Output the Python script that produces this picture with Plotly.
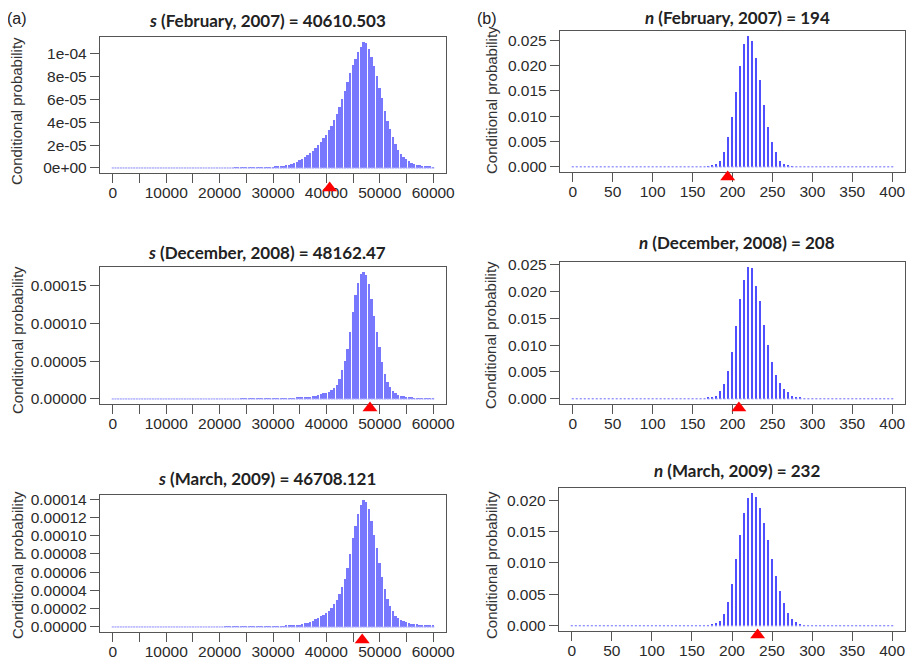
import numpy as np
import plotly.graph_objects as go

# page size; the html body adds an 8px margin, so the figure itself is 8px smaller
PAGE_W, PAGE_H = 916, 665
OFF = 8
W, H = PAGE_W - OFF, PAGE_H - OFF

# bin positions
s_bins = list(range(0, 60001, 500))
n_bins = list(range(0, 401, 5))

# conditional probability of s (units of 1e-6)
s_feb_2007 = [
    0, 0, 0, 0, 0, 0, 0, 0, 0, 0,
    0, 0, 0, 0, 0, 0, 0, 0, 0, 0,
    0, 0, 0, 0, 0, 0, 0, 0, 0, 0,
    0, 0, 0, 0, 0, 0, 0, 0, 0, 0,
    0, 0, 0, 0, 0, 0, 0.01, 0.01, 0.02, 0.02,
    0.03, 0.04, 0.05, 0.07, 0.1, 0.15, 0.2, 0.3, 0.4, 0.5,
    0.7, 0.9, 1.2, 1.5, 1.9, 2.4, 3.0, 3.7, 4.5, 5.5,
    6.6, 8.0, 9.5, 11, 13, 15, 17.5, 20, 23, 26,
    29, 33, 37, 42, 47, 53, 60, 67, 75, 83,
    90, 95, 101, 106, 110, 109, 104, 97, 89, 80,
    70, 61, 50, 41, 34, 27, 21, 16, 12, 9.5,
    7.5, 5.8, 4.5, 3.5, 2.8, 2.2, 1.8, 1.4, 1.1, 0.9,
    0.7,
]
s_dec_2008 = [
    0, 0, 0, 0, 0, 0, 0, 0, 0, 0,
    0, 0, 0, 0, 0, 0, 0, 0, 0, 0,
    0, 0, 0, 0, 0, 0, 0, 0, 0, 0,
    0, 0, 0, 0, 0, 0, 0, 0, 0, 0,
    0, 0, 0, 0, 0, 0, 0, 0, 0.01, 0.01,
    0.02, 0.02, 0.03, 0.04, 0.05, 0.06, 0.08, 0.1, 0.12, 0.14,
    0.17, 0.2, 0.25, 0.3, 0.4, 0.5, 0.6, 0.8, 1.0, 1.3,
    1.6, 1.9, 2.3, 2.7, 3.2, 3.8, 4.5, 5.3, 6.2, 7.2,
    8.4, 9.8, 11.5, 14, 19, 27, 38, 50, 66, 88,
    115, 137, 153, 165, 168, 164, 152, 132, 110, 88,
    69, 49, 33, 23, 16, 11, 8, 5.7, 4.4, 3.4,
    2.6, 2.0, 1.5, 1.1, 0.8, 0.6, 0.4, 0.3, 0.2, 0.15,
    0.1,
]
s_mar_2009 = [
    0, 0, 0, 0, 0, 0, 0, 0, 0, 0,
    0, 0, 0, 0, 0, 0, 0, 0, 0, 0,
    0, 0, 0, 0, 0, 0, 0, 0, 0, 0,
    0, 0, 0, 0, 0, 0, 0, 0, 0, 0,
    0, 0, 0.01, 0.02, 0.03, 0.04, 0.05, 0.06, 0.07, 0.08,
    0.1, 0.12, 0.15, 0.18, 0.22, 0.26, 0.3, 0.35, 0.4, 0.45,
    0.5, 0.6, 0.7, 0.8, 1.0, 1.2, 1.4, 1.6, 1.9, 2.2,
    2.6, 3.1, 3.8, 4.6, 5.6, 6.8, 8.2, 9.8, 11.5, 13.5,
    15.5, 18, 21, 25, 30, 36, 44, 53, 65, 80,
    97, 111, 124, 134, 139, 137, 129, 116, 101, 86,
    70, 55, 42, 31, 23, 17, 12.5, 9.5, 7.5, 6,
    5, 4.2, 3.6, 3.1, 2.7, 2.4, 2.1, 1.8, 1.6, 1.4,
    1.2,
]

# conditional probability of n (units of 1e-3)
n_feb_2007 = [
    0, 0, 0, 0, 0, 0, 0, 0, 0, 0,
    0, 0, 0, 0, 0, 0, 0, 0, 0, 0,
    0, 0, 0, 0, 0, 0, 0, 0, 0, 0,
    0, 0, 0, 0, 0.1, 0.25, 0.6, 1.2, 2.9, 5.8,
    9.9, 14.8, 19.9, 24.2, 25.8, 24.9, 21.5, 17.1, 12.3, 7.9,
    4.9, 2.9, 1.2, 0.6, 0.25, 0.1, 0, 0, 0, 0,
    0, 0, 0, 0, 0, 0, 0, 0, 0, 0,
    0, 0, 0, 0, 0, 0, 0, 0, 0, 0,
    0,
]
n_dec_2008 = [
    0, 0, 0, 0, 0, 0, 0, 0, 0, 0,
    0, 0, 0, 0, 0, 0, 0, 0, 0, 0,
    0, 0, 0, 0, 0, 0, 0, 0, 0, 0,
    0, 0, 0, 0, 0.15, 0.3, 0.6, 1.4, 2.7, 5.1,
    8.8, 13.5, 18.6, 22.1, 24.5, 24.3, 21.0, 18.2, 13.8, 10.0,
    6.9, 4.5, 3.0, 1.8, 1.2, 0.5, 0.3, 0.15, 0, 0,
    0, 0, 0, 0, 0, 0, 0, 0, 0, 0,
    0, 0, 0, 0, 0, 0, 0, 0, 0, 0,
    0,
]
n_mar_2009 = [
    0, 0, 0, 0, 0, 0, 0, 0, 0, 0,
    0, 0, 0, 0, 0, 0, 0, 0, 0, 0,
    0, 0, 0, 0, 0, 0, 0, 0, 0, 0,
    0, 0, 0, 0, 0.05, 0.15, 0.43, 0.8, 1.9, 3.8,
    6.7, 10.6, 14.4, 18.0, 20.3, 21.1, 20.5, 18.7, 16.3, 13.6,
    10.7, 8.0, 5.6, 3.6, 2.1, 1.1, 0.64, 0.3, 0.1, 0,
    0, 0, 0, 0, 0, 0, 0, 0, 0, 0,
    0, 0, 0, 0, 0, 0, 0, 0, 0, 0,
    0,
]

months = ["February, 2007", "December, 2008", "March, 2009"]
s_observed = [40610.503, 48162.47, 46708.121]
n_observed = [194, 208, 232]
s_text = ["40610.503", "48162.47", "46708.121"]

s_feb_ticktext = ["0e+00", "2e-05", "4e-05", "6e-05", "8e-05", "1e-04"]

# panel boxes in page pixels: left, top, right, bottom
boxes_s = [(100, 37, 446, 173), (100, 267, 446, 404), (100, 495, 446, 632)]
boxes_n = [(560, 31, 905, 172), (560, 262, 905, 404), (559, 488, 905, 631)]
title_y_s = [20, 252, 478]
title_y_n = [17, 243, 470]
ylab_y_s = [111, 340, 565]
ylab_y_n = [100, 335, 565]
marker_y_s = [188, 408, 640]
marker_y_n = [177, 408, 635]

TICK_FONT = dict(family="Liberation Sans, Arial", size=15.5, color="#2a2a2a")
FRAME = "#555555"


def px_x(x):
    return (x - OFF) / W


def px_y(y):
    return 1 - (y - OFF) / H


fig = go.Figure()
layout = {}


def add_panel(k, bins, vals, box, xr, xtickvals, xticktext, bar_w, bar_col, dash_col,
              dash_size, observed, mark_px, ytick):
    ax = "" if k == 1 else str(k)
    xa, ya = "x" + ax, "y" + ax
    ym = "y" + str(k + 6)
    left, top, right, bottom = box
    m = max(vals)
    yr = [-0.04 * m, 1.04 * m]

    fig.add_trace(go.Scatter(
        x=bins, y=[0] * len(bins), mode="markers", xaxis=xa, yaxis=ya,
        marker=dict(symbol="line-ew", size=dash_size, line=dict(width=1.3, color=dash_col)),
        hoverinfo="skip", showlegend=False))
    fig.add_trace(go.Bar(
        x=bins, y=vals, width=bar_w, marker=dict(color=bar_col, line=dict(width=0)),
        xaxis=xa, yaxis=ya, showlegend=False))

    # observed value: red triangle just under the frame, on a helper axis (1 unit = 1 px)
    fig.add_trace(go.Scatter(
        x=[observed], y=[bottom + 24 - mark_px], mode="markers", xaxis=xa, yaxis=ym,
        cliponaxis=False, hoverinfo="x",
        marker=dict(symbol="triangle-up", size=13, color="#ff0000"), showlegend=False))

    common = dict(showline=True, mirror=True, linecolor=FRAME, linewidth=1.4,
                  ticks="outside", ticklen=9, tickcolor=FRAME, tickwidth=1.2,
                  showgrid=False, zeroline=False, tickfont=TICK_FONT,
                  fixedrange=True, automargin=False)
    layout["xaxis" + ax] = dict(
        domain=[px_x(left), px_x(right)], anchor=ya, range=xr, ticklabelstandoff=-4,
        tickmode="array", tickvals=xtickvals, ticktext=xticktext, **common)
    layout["yaxis" + ax] = dict(
        domain=[px_y(bottom), px_y(top)], anchor=xa, range=yr, **common, **ytick)
    layout["yaxis" + str(k + 6)] = dict(
        domain=[px_y(bottom + 24), px_y(bottom - 6)], range=[0, 30], anchor=xa,
        visible=False, fixedrange=True, automargin=False)


s_xticks = list(range(0, 60001, 5000))
s_xtext = [str(v) if v % 10000 == 0 else "" for v in s_xticks]
n_xticks = list(range(0, 401, 50))
n_xtext = [str(v) for v in n_xticks]

s_series = [s_feb_2007, s_dec_2008, s_mar_2009]
n_series = [n_feb_2007, n_dec_2008, n_mar_2009]

s_yticks = [
    dict(tickmode="array", tickvals=[v * 1e-6 for v in range(0, 101, 20)], ticktext=s_feb_ticktext),
    dict(tickmode="linear", tick0=0, dtick=5e-5, tickformat=".5f"),
    dict(tickmode="linear", tick0=0, dtick=2e-5, tickformat=".5f"),
]
n_yticks = [dict(tickmode="linear", tick0=0, dtick=0.005, tickformat=".3f")] * 3

annotations = []
for r in range(3):
    ks, kn = 2 * r + 1, 2 * r + 2
    add_panel(ks, s_bins, [v * 1e-6 for v in s_series[r]], boxes_s[r], [-2400, 62400],
              s_xticks, s_xtext, 350, "#7878ff", "#a4a4ff", 1.5, s_observed[r],
              marker_y_s[r], s_yticks[r])
    add_panel(kn, n_bins, [v * 1e-3 for v in n_series[r]], boxes_n[r], [-16, 416],
              n_xticks, n_xtext, 1.7, "#4f4fff", "#8c8cff", 1.5, n_observed[r],
              marker_y_n[r], n_yticks[r])

    annotations.append(dict(
        text="<b><i>s</i> (%s) = %s</b>" % (months[r], s_text[r]),
        x=px_x(267), y=px_y(title_y_s[r]), xref="paper", yref="paper",
        showarrow=False, xanchor="center", yanchor="middle",
        font=dict(family="Lato, Liberation Sans", size=17, color="#222222")))
    annotations.append(dict(
        text="<b><i>n</i> (%s) = %d</b>" % (months[r], n_observed[r]),
        x=px_x(737), y=px_y(title_y_n[r]), xref="paper", yref="paper",
        showarrow=False, xanchor="center", yanchor="middle",
        font=dict(family="Lato, Liberation Sans", size=17, color="#222222")))
    for xp, yp in [(17, ylab_y_s[r]), (491, ylab_y_n[r])]:
        annotations.append(dict(
            text="Conditional probability", x=px_x(xp), y=px_y(yp),
            xref="paper", yref="paper", showarrow=False, textangle=-90,
            xanchor="center", yanchor="middle",
            font=dict(family="Liberation Sans, Arial", size=15, color="#333333")))

for txt, xp in [("(a)", 17), ("(b)", 487)]:
    annotations.append(dict(
        text=txt, x=px_x(xp), y=px_y(18), xref="paper", yref="paper",
        showarrow=False, xanchor="center", yanchor="middle",
        font=dict(family="Liberation Sans, Arial", size=16, color="#222222")))

fig.update_layout(
    template="none",
    width=W, height=H,
    margin=dict(l=0, r=0, t=0, b=0, pad=0),
    paper_bgcolor="white", plot_bgcolor="rgba(0,0,0,0)",
    bargap=0, showlegend=False,
    annotations=annotations,
    **layout,
)

fig.write_html("out.html")
